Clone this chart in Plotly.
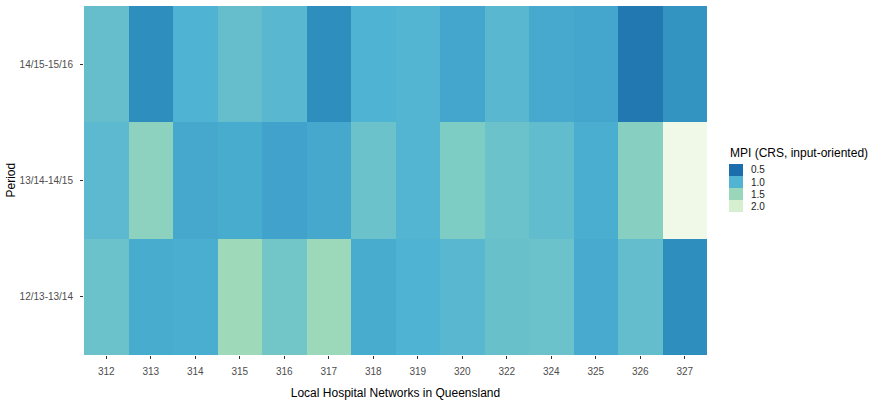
import numpy as np
import plotly.graph_objects as go

# Local Hospital Network codes and assessment periods
networks = ["312", "313", "314", "315", "316", "317", "318", "319",
            "320", "322", "324", "325", "326", "327"]
periods = ["12/13-13/14", "13/14-14/15", "14/15-15/16"]

# Malmquist productivity index (CRS, input-oriented) per period
mpi_1213_1314 = [1.17, 0.93, 0.95, 1.53, 1.22, 1.51, 0.93, 0.99,
                 1.05, 1.15, 1.17, 0.92, 1.11, 0.70]
mpi_1314_1415 = [1.07, 1.40, 0.90, 0.93, 0.86, 0.90, 1.17, 1.01,
                 1.31, 1.17, 1.10, 0.95, 1.37, 2.22]
mpi_1415_1516 = [1.13, 0.70, 0.99, 1.13, 1.05, 0.70, 0.99, 1.01,
                 0.89, 1.05, 0.91, 0.89, 0.57, 0.74]

legend_values = [0.5, 1.0, 1.5, 2.0]
legend_labels = ["0.5", "1.0", "1.5", "2.0"]

# GnBu (7 classes), dark for low values, blended in CIELAB
gnbu = ["#08589e", "#2b8cbe", "#4eb3d3", "#7bccc4", "#a8ddb5", "#ccebc5", "#f0f9e8"]
zmin, zmax = 0.37, 2.22


def hex_to_rgb(h):
    return np.array([int(h[i:i + 2], 16) for i in (1, 3, 5)], dtype=float) / 255


_M = np.array([[0.4124, 0.3576, 0.1805],
               [0.2126, 0.7152, 0.0722],
               [0.0193, 0.1192, 0.9505]])
_WHITE = np.array([0.95047, 1.0, 1.08883])


def rgb_to_lab(c):
    lin = np.where(c <= 0.04045, c / 12.92, ((c + 0.055) / 1.055) ** 2.4)
    xyz = _M @ lin / _WHITE
    f = np.where(xyz > 0.008856, np.cbrt(xyz), 7.787 * xyz + 16 / 116)
    return np.array([116 * f[1] - 16, 500 * (f[0] - f[1]), 200 * (f[1] - f[2])])


def lab_to_rgb(lab):
    fy = (lab[0] + 16) / 116
    fx = fy + lab[1] / 500
    fz = fy - lab[2] / 200
    f = np.array([fx, fy, fz])
    xyz = np.where(f ** 3 > 0.008856, f ** 3, (f - 16 / 116) / 7.787) * _WHITE
    lin = np.linalg.solve(_M, xyz)
    lin = np.clip(lin, 0, 1)
    c = np.where(lin <= 0.0031308, 12.92 * lin, 1.055 * lin ** (1 / 2.4) - 0.055)
    return np.clip(c, 0, 1)


labs = [rgb_to_lab(hex_to_rgb(h)) for h in gnbu]
anchor_pos = np.linspace(0, 1, len(gnbu))


def scale_color(t):
    t = float(np.clip(t, 0, 1))
    k = min(int(t * (len(gnbu) - 1)), len(gnbu) - 2)
    u = (t - anchor_pos[k]) / (anchor_pos[k + 1] - anchor_pos[k])
    rgb = lab_to_rgb(labs[k] * (1 - u) + labs[k + 1] * u)
    r, g, b = (np.round(rgb * 255)).astype(int)
    return f"rgb({r},{g},{b})"


stops = np.linspace(0, 1, 61)
colorscale = [[float(s), scale_color(s)] for s in stops]

font = "Liberation Sans, Arial, sans-serif"

fig = go.Figure(go.Heatmap(
    x=networks,
    y=periods,
    z=[mpi_1213_1314, mpi_1314_1415, mpi_1415_1516],
    colorscale=colorscale,
    zmin=zmin, zmax=zmax,
    showscale=False,
    xgap=0, ygap=0,
    hovertemplate="LHN %{x}<br>%{y}<br>MPI %{z:.2f}<extra></extra>",
))

# Legend keys: one box per break, coloured through the same scale
L, R, T, B = 84, 167, 6, 45
W, H = 874 - L - R, 400 - T - B


def px_x(p):
    return (p - L) / W


def px_y(p):
    return (400 - B - p) / H


key_top, key_h = 164, 12
for i, (v, lab) in enumerate(zip(legend_values, legend_labels)):
    col = scale_color((v - zmin) / (zmax - zmin))
    y0 = key_top + i * key_h
    fig.add_shape(type="rect", xref="paper", yref="paper",
                  x0=px_x(729), x1=px_x(743), y0=px_y(y0 + key_h), y1=px_y(y0),
                  fillcolor=col, line=dict(width=0), layer="above")
    fig.add_annotation(xref="paper", yref="paper", x=px_x(749), y=px_y(y0 + key_h / 2),
                       text=lab, showarrow=False, xanchor="left", yanchor="middle",
                       font=dict(family=font, size=10, color="#1a1a1a"))

fig.add_annotation(xref="paper", yref="paper", x=px_x(728), y=px_y(153),
                   text="MPI (CRS, input-oriented)", showarrow=False,
                   xanchor="left", yanchor="middle",
                   font=dict(family=font, size=12, color="#000000"))

# Vertical axis title
fig.add_annotation(xref="paper", yref="paper", x=px_x(10), y=0.5,
                   text="Period", textangle=-90, showarrow=False,
                   xanchor="center", yanchor="middle",
                   font=dict(family=font, size=12, color="#000000"))

fig.update_layout(
    width=874, height=400,
    margin=dict(l=L, r=R, t=T, b=B),
    paper_bgcolor="white", plot_bgcolor="white",
    font=dict(family=font),
    showlegend=False,
)
fig.update_xaxes(
    type="category", showgrid=False, zeroline=False, automargin=False,
    ticks="outside", ticklen=3, tickwidth=1, tickcolor="#333333",
    tickfont=dict(family=font, size=10, color="#4d4d4d"),
    ticklabelstandoff=4,
    title=dict(text="Local Hospital Networks in Queensland",
               font=dict(family=font, size=12, color="#000000")),
)
fig.update_yaxes(
    type="category", showgrid=False, zeroline=False, automargin=False,
    ticks="outside", ticklen=3, tickwidth=1, tickcolor="#333333",
    tickfont=dict(family=font, size=10, color="#4d4d4d"),
    ticklabelstandoff=5,
)

fig.write_html("out.html")
